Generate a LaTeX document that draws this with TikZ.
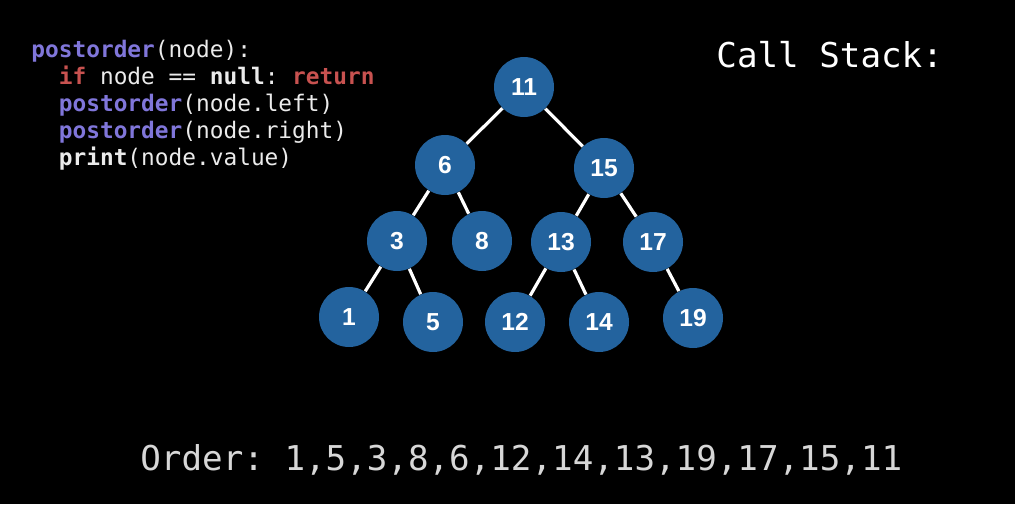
\documentclass[tikz,border=0pt]{standalone}
\usepackage{fontspec}
\setmonofont{DejaVu Sans Mono}
\newfontfamily\keyfont{Liberation Sans}
\usepackage{xcolor}
\definecolor{nodeblue}{RGB}{35,99,158}
\definecolor{callname}{RGB}{128,118,218}
\definecolor{keyword}{RGB}{200,82,80}
\definecolor{codetext}{RGB}{235,235,235}
\definecolor{ordertext}{RGB}{215,215,215}
\usetikzlibrary{positioning}

\begin{document}
\begin{tikzpicture}[
  x=0.5pt, y=-0.5pt,
  treenode/.style={circle, fill=nodeblue, minimum size=30pt, inner sep=0pt, text=white, font=\keyfont\bfseries\fontsize{12.3}{13}\selectfont},
  edge/.style={draw=white, line width=1.6pt},
  code/.style={anchor=base west, align=left, inner sep=0pt, text=codetext, font=\ttfamily\fontsize{11.4}{13.4}\selectfont},
  bigtext/.style={anchor=base west, inner sep=0pt, font=\ttfamily\fontsize{17.1}{20}\selectfont}
]

% --- Hintergrund ---
\fill[black] (0,0) rectangle (1015,504);
\useasboundingbox (0,0) rectangle (1015,504);

% --- Pseudocode oben links (Basislinie der letzten Zeile) ---
\node[code] (pseudo) at (31,165) {%
  \textcolor{callname}{\textbf{postorder}}(node):\\
  \phantom{xx}\textcolor{keyword}{\textbf{if}} node == \textbf{null}: \textcolor{keyword}{\textbf{return}}\\
  \phantom{xx}\textcolor{callname}{\textbf{postorder}}(node.left)\\
  \phantom{xx}\textcolor{callname}{\textbf{postorder}}(node.right)\\
  \phantom{xx}\textbf{print}(node.value)};

\node[bigtext, text=white] (stack) at (716,67) {Call Stack:};

% ------------------- BAUM ------------------------
\node[treenode] (n11) at (524,87)  {11};
\node[treenode] (n6)  at (445,165) {6};
\node[treenode] (n15) at (604,168) {15};
\node[treenode] (n3)  at (397,241) {3};
\node[treenode] (n8)  at (482,241) {8};
\node[treenode] (n13) at (561,242) {13};
\node[treenode] (n17) at (653,242) {17};
\node[treenode] (n1)  at (349,317) {1};
\node[treenode] (n5)  at (433,322) {5};
\node[treenode] (n12) at (515,322) {12};
\node[treenode] (n14) at (599,322) {14};
\node[treenode] (n19) at (693,318) {19};

% Kanten
\draw[edge] (n11) -- (n6);
\draw[edge] (n11) -- (n15);
\draw[edge] (n6) -- (n3);
\draw[edge] (n6) -- (n8);
\draw[edge] (n15) -- (n13);
\draw[edge] (n15) -- (n17);
\draw[edge] (n3) -- (n1);
\draw[edge] (n3) -- (n5);
\draw[edge] (n13) -- (n12);
\draw[edge] (n13) -- (n14);
\draw[edge] (n17) -- (n19);

% --- Ergebnis unten ---
\node[bigtext, text=ordertext] (order) at (140,470) {Order: 1,5,3,8,6,12,14,13,19,17,15,11};
\end{tikzpicture}
\end{document}
